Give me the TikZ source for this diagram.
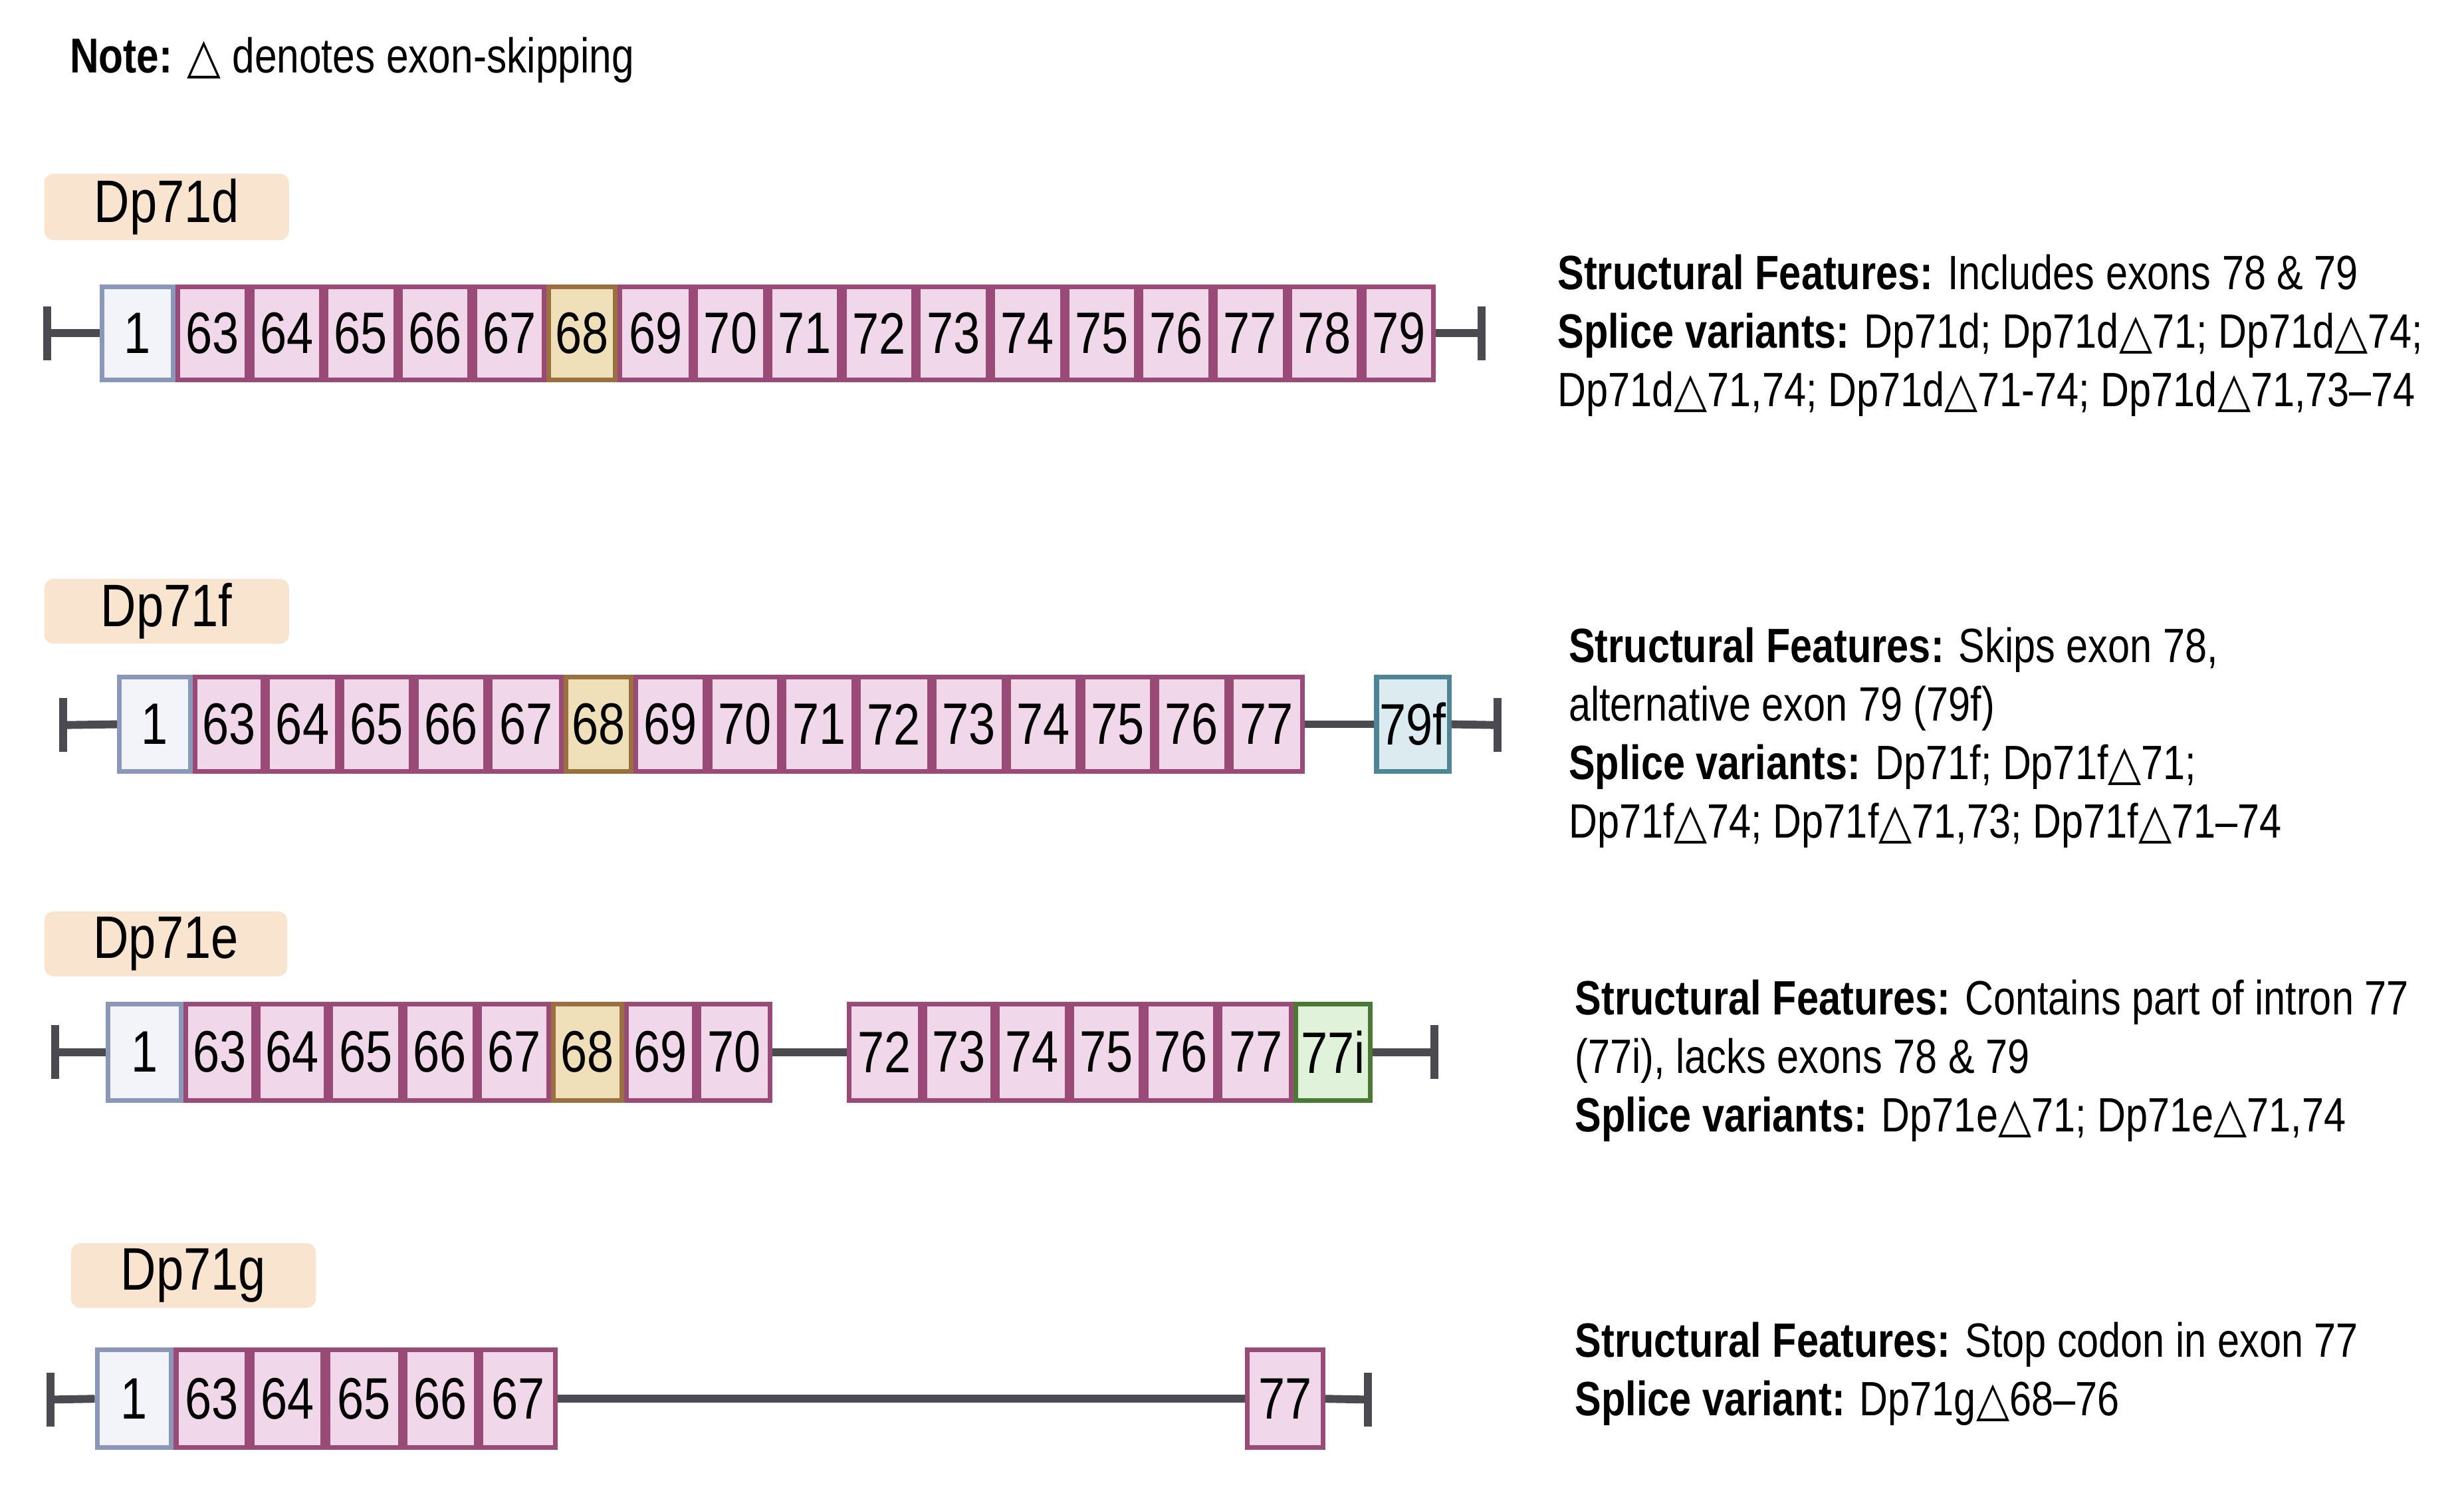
\documentclass[tikz,border=0pt]{standalone}
\usepackage{fontspec}
\setmainfont{Liberation Sans}[FakeStretch=0.82]
\newfontfamily\symf{DejaVu Sans}[FakeStretch=0.9]
\newcommand{\dt}{{\symf\char"25B3}}
\definecolor{pinkF}{HTML}{F0D7EA}\definecolor{pinkD}{HTML}{9A4A77}
\definecolor{oneF}{HTML}{F3F4FA}\definecolor{oneD}{HTML}{8A97B8}
\definecolor{yelF}{HTML}{EFE0B9}\definecolor{yelD}{HTML}{9A7040}
\definecolor{bluF}{HTML}{DCEBF0}\definecolor{bluD}{HTML}{4E8594}
\definecolor{grnF}{HTML}{E0F3DA}\definecolor{grnD}{HTML}{4A7A35}
\definecolor{labF}{HTML}{F8E4CF}\definecolor{barC}{HTML}{4A4A50}
\tikzset{
 ex/.style={draw=pinkD,fill=pinkF,line width=3pt,inner sep=0pt,font=\fontsize{37}{40}\selectfont},
 one/.style={draw=oneD,fill=oneF},
 yel/.style={draw=yelD,fill=yelF},
 blu/.style={draw=bluD,fill=bluF},
 grn/.style={draw=grnD,fill=grnF},
 pk/.style={},
 lab/.style={fill=labF,rounded corners=6pt,inner sep=0pt,font=\fontsize{38}{40}\selectfont},
 ln/.style={draw=barC,line width=5pt},
 info/.style={anchor=north west,align=left,inner sep=0pt,font=\fontsize{30.5}{37}\selectfont},
}
\newcommand{\exrow}[4]{% prefix, ytop, ybot, list name/x1/x2/style
 \foreach \n/\a/\b/\s in {#4}{
  \pgfmathsetmacro\w{\b-\a-3}\pgfmathsetmacro\hh{#3-#2-3}
  \node[ex,\s,minimum width=\w pt,minimum height=\hh pt] (#1\n) at ({(\a+\b)/2},{(#2+#3)/2}) {\n};}}
\begin{document}
\begin{tikzpicture}[x=1pt,y=-1pt]
\useasboundingbox (0,0) rectangle (1560,954);
\node[anchor=west,inner sep=0pt,font=\fontsize{31}{33}\selectfont] (note) at (44,38) {\textbf{Note:} \dt\ denotes exon-skipping};
% Dp71d
\node[lab,minimum width=155pt,minimum height=42pt] (Ld) at (105.5,131) {Dp71d};
\exrow{d}{180}{242}{1/63/111/one,63/111/158/pk,64/158/205/pk,65/205/252/pk,66/252/299/pk,67/299/346/pk,68/346/391/yel,69/391/439/pk,70/439/486/pk,71/486/533/pk,72/533/580/pk,73/580/627/pk,74/627/674/pk,75/674/721/pk,76/721/768/pk,77/768/815/pk,78/815/862/pk,79/862/909/pk}
\coordinate (dl) at (30,211);\coordinate (dr) at (938,211);
\draw[ln] (dl) -- (d1.west);\draw[ln] (d79.east) -- (dr);
\draw[ln] ([yshift=-17pt]dl) -- ([yshift=17pt]dl);\draw[ln] ([yshift=-17pt]dr) -- ([yshift=17pt]dr);
\node[info] (Td) at (986,161) {\textbf{Structural Features:} Includes exons 78 \& 79\\\textbf{Splice variants:} Dp71d; Dp71d\dt71; Dp71d\dt74;\\Dp71d\dt71,74; Dp71d\dt71-74; Dp71d\dt71,73--74};
% Dp71f
\node[lab,minimum width=155pt,minimum height=41pt] (Lf) at (105.5,387) {Dp71f};
\exrow{f}{427}{490}{1/74/122/one,63/122/168/pk,64/168/215/pk,65/215/262/pk,66/262/309/pk,67/309/357/pk,68/357/401/yel,69/401/448/pk,70/448/495/pk,71/495/542/pk,72/542/590/pk,73/590/637/pk,74/637/684/pk,75/684/731/pk,76/731/778/pk,77/778/826/pk,79f/870/919/blu}
\coordinate (fl) at (40,459);\coordinate (fr) at (948,459);
\draw[ln] (fl) -- (f1.west);\draw[ln] (f77.east) -- (f79f.west);\draw[ln] (f79f.east) -- (fr);
\draw[ln] ([yshift=-17pt]fl) -- ([yshift=17pt]fl);\draw[ln] ([yshift=-17pt]fr) -- ([yshift=17pt]fr);
\node[info] (Tf) at (993,397) {\textbf{Structural Features:} Skips exon 78,\\alternative exon 79 (79f)\\\textbf{Splice variants:} Dp71f; Dp71f\dt71;\\Dp71f\dt74; Dp71f\dt71,73; Dp71f\dt71--74};
% Dp71e
\node[lab,minimum width=154pt,minimum height=41pt] (Le) at (105,597.5) {Dp71e};
\exrow{e}{634}{698}{1/67/116/one,63/116/162/pk,64/162/208/pk,65/208/255/pk,66/255/302/pk,67/302/349/pk,68/349/395/yel,69/395/441/pk,70/441/489/pk,72/536/584/pk,73/584/630/pk,74/630/677/pk,75/677/724/pk,76/724/771/pk,77/771/819/pk,77i/819/869/grn}
\coordinate (el) at (35,666);\coordinate (er) at (908,666);
\draw[ln] (el) -- (e1.west);\draw[ln] (e70.east) -- (e72.west);\draw[ln] (e77i.east) -- (er);
\draw[ln] ([yshift=-17pt]el) -- ([yshift=17pt]el);\draw[ln] ([yshift=-17pt]er) -- ([yshift=17pt]er);
\node[info] (Te) at (997,620) {\textbf{Structural Features:} Contains part of intron 77\\(77i), lacks exons 78 \& 79\\\textbf{Splice variants:} Dp71e\dt71; Dp71e\dt71,74};
% Dp71g
\node[lab,minimum width=155pt,minimum height=41pt] (Lg) at (122.5,807.5) {Dp71g};
\exrow{g}{853}{918}{1/60/110/one,63/110/158/pk,64/158/206/pk,65/206/255/pk,66/255/303/pk,67/303/353/pk,77/788/839/pk}
\coordinate (gl) at (32,886);\coordinate (gr) at (866,886);
\draw[ln] (gl) -- (g1.west);\draw[ln] (g67.east) -- (g77.west);\draw[ln] (g77.east) -- (gr);
\draw[ln] ([yshift=-17pt]gl) -- ([yshift=17pt]gl);\draw[ln] ([yshift=-17pt]gr) -- ([yshift=17pt]gr);
\node[info] (Tg) at (997,837) {\textbf{Structural Features:} Stop codon in exon 77\\\textbf{Splice variant:} Dp71g\dt68--76};
\end{tikzpicture}
\end{document}
